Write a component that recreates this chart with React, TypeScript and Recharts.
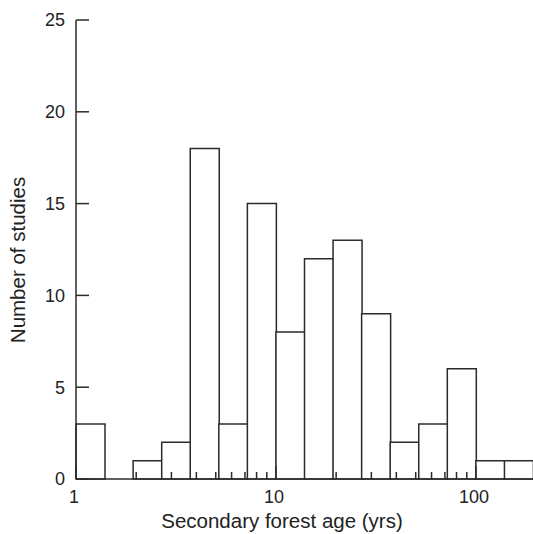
import { Bar, ComposedChart, XAxis, YAxis, Label } from 'recharts';

// histogram bins, 7 per decade (log scale)
const binEdges = [1, 1.39, 1.93, 2.68, 3.73, 5.18, 7.2, 10, 13.9, 19.3, 26.8, 37.3, 51.8, 72, 100, 139, 193];
const studyCounts = [3, 0, 1, 2, 18, 3, 15, 8, 12, 13, 9, 2, 3, 6, 1, 1];
const ageTicks = [1, 2, 3, 4, 5, 6, 7, 8, 9, 10, 20, 30, 40, 50, 60, 70, 80, 90, 100];
const ageLabels = [1, 10, 100];
const countTicks = [0, 5, 10, 15, 20, 25];

const data = studyCounts.map((count, i) => ({ bin: `b${i}`, lo: binEdges[i], hi: binEdges[i + 1], count }));

const INK = '#2b2b2b';
const FONT = '"Liberation Sans", Arial, sans-serif';

function AgeTick({ x, y, payload }: any) {
  const major = ageLabels.includes(payload.value);
  return (
    <g>
      <line x1={x} x2={x} y1={y} y2={y - (major ? 13 : 7)} stroke={INK} strokeWidth={1.5} />
      {major && (
        <text x={x - 2} y={y + 24} textAnchor="middle" fill="#222" fontSize={18} fontFamily={FONT}>
          {payload.value}
        </text>
      )}
    </g>
  );
}

function CountTick({ x, y, payload }: any) {
  return (
    <g>
      <line x1={x} x2={x + 13} y1={y} y2={y} stroke={INK} strokeWidth={1.5} />
      <text x={x - 11} y={y} dy="0.35em" textAnchor="end" fill="#222" fontSize={18} fontFamily={FONT}>
        {payload.value}
      </text>
    </g>
  );
}

export default function App() {
  return (
    <div style={{ position: 'absolute', left: 0, top: 0, background: '#fff' }}>
      <ComposedChart width={533} height={534} data={data} margin={{ top: 20, right: 0, bottom: 0, left: 40 }} barCategoryGap={0} barGap={0}>
        <XAxis xAxisId="bins" dataKey="bin" type="category" hide />
        <XAxis
          xAxisId="age"
          dataKey="lo"
          type="number"
          scale="log"
          domain={[1, 193]}
          allowDataOverflow
          ticks={ageTicks}
          interval={0}
          tickSize={0}
          tickMargin={0}
          tickLine={false}
          tick={<AgeTick />}
          axisLine={{ stroke: INK, strokeWidth: 1.5 }}
          height={55}
        >
          <Label
            content={() => (
              <text x={282} y={528} textAnchor="middle" fill="#222" fontSize={20.5} fontFamily={FONT}>
                Secondary forest age (yrs)
              </text>
            )}
          />
        </XAxis>
        <YAxis
          domain={[0, 25]}
          ticks={countTicks}
          width={36}
          tickSize={0}
          tickMargin={0}
          tickLine={false}
          tick={<CountTick />}
          axisLine={{ stroke: INK, strokeWidth: 1.5 }}
        >
          <Label
            content={() => (
              <text x={25} y={260} transform="rotate(-90 25 260)" textAnchor="middle" fill="#222" fontSize={20.5} fontFamily={FONT}>
                Number of studies
              </text>
            )}
          />
        </YAxis>
        <Bar xAxisId="bins" dataKey="count" fill="#fff" stroke={INK} strokeWidth={1.5} isAnimationActive={false} />
      </ComposedChart>
    </div>
  );
}
